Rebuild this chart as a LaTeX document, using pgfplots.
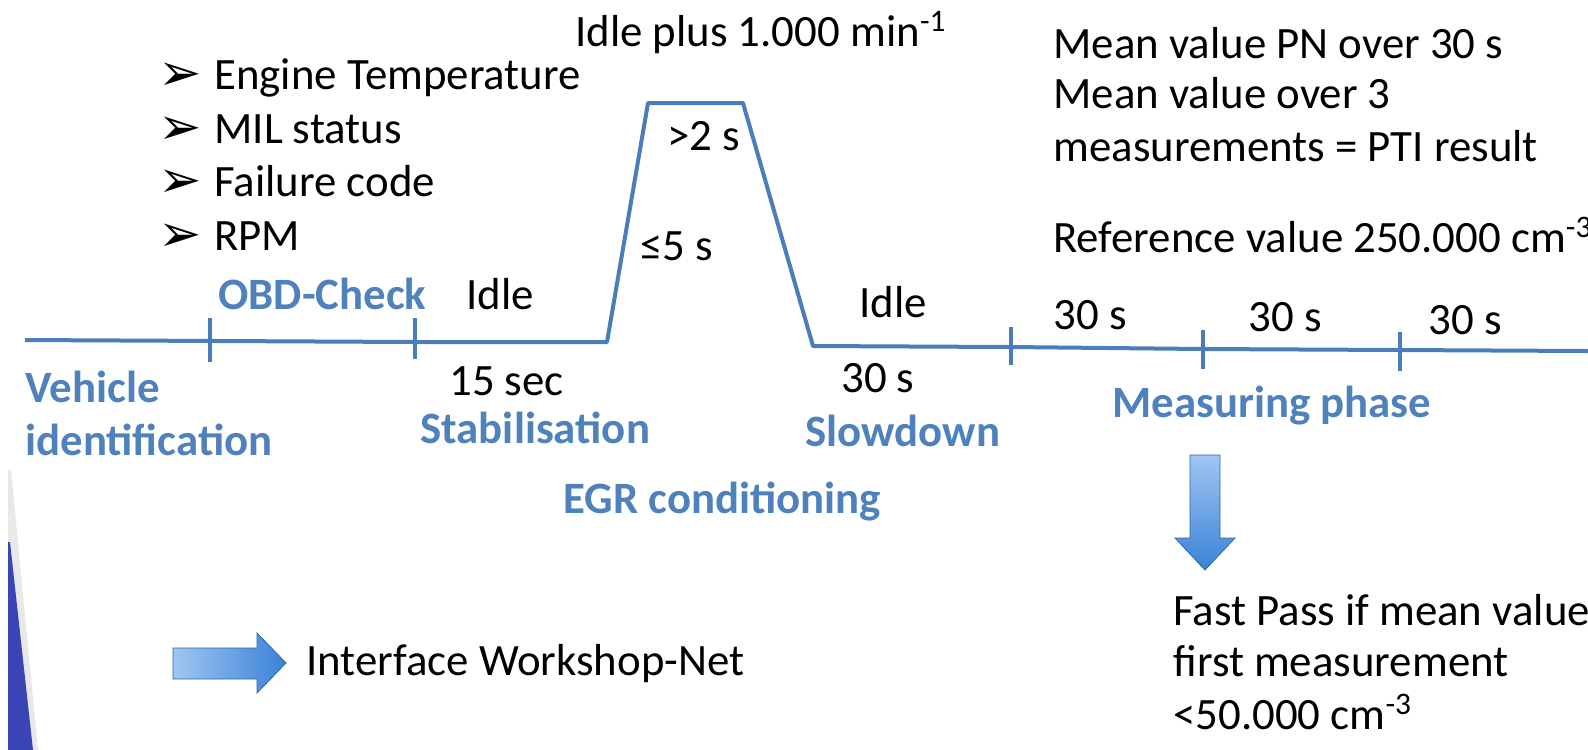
\documentclass[border=0pt]{standalone}
\usepackage{fontspec}
\setmainfont{Carlito}
\newfontfamily\dejavu{DejaVu Sans}
\usepackage{pgfplots}
\pgfplotsset{compat=1.18}
\definecolor{lineblue}{RGB}{74,126,187}
\definecolor{lblblue}{RGB}{79,129,189}
\definecolor{wedge}{RGB}{58,68,180}
\definecolor{arrlight}{RGB}{160,198,242}
\definecolor{arrdark}{RGB}{58,130,214}
\newcommand\txt{\fontsize{22.5}{27}\selectfont}
\begin{document}
\begin{tikzpicture}
\begin{axis}[at={(0,0)}, anchor=south west, scale only axis,
  width=794bp, height=375bp, xmin=0, xmax=1588, ymin=0, ymax=750,
  y dir=reverse, hide axis, clip=false]
% left decoration
\addplot[draw=none, fill=gray!18] coordinates {(8,470) (11,470) (38,750) (8,750)} -- cycle;
\addplot[draw=none, fill=wedge] coordinates {(8,542) (10,542) (33,750) (8,750)} -- cycle;
% timeline
\addplot[lineblue, line width=2bp, line join=round] coordinates {
 (25,340) (415,342) (607,342) (648,103) (743,103) (813,346) (1011,347) (1203,349) (1400,350) (1588,351)};
% ticks
\addplot[lineblue, line width=1.6bp] coordinates {(210,318) (210,362)};
\addplot[lineblue, line width=1.6bp] coordinates {(415,318) (415,359)};
\addplot[lineblue, line width=1.6bp] coordinates {(1011,327) (1011,365)};
\addplot[lineblue, line width=1.6bp] coordinates {(1203,330) (1203,369)};
\addplot[lineblue, line width=1.6bp] coordinates {(1400,332) (1400,371)};
% right arrow
\addplot[draw=arrdark!80!black, line width=0.4bp, left color=arrlight, right color=arrdark]
 coordinates {(173,648) (257,648) (257,633) (286,663) (257,693) (257,679) (173,679)} -- cycle;
% down arrow
\addplot[draw=arrdark!80!black, line width=0.4bp, top color=arrlight, bottom color=arrdark]
 coordinates {(1190,455) (1220,455) (1220,538) (1235,538) (1205,570) (1175,538) (1190,538)} -- cycle;
% texts
\tikzset{t/.style={anchor=base west, inner sep=0pt, font=\txt},
         b/.style={anchor=base west, inner sep=0pt, font=\txt\bfseries, text=lblblue},
         ar/.style={anchor=base west, inner sep=0pt, font=\dejavu\fontsize{26}{30}\selectfont}}
\node[t] at (axis cs:575,46) {Idle plus 1.000 min\textsuperscript{-1}};
\node[t] at (axis cs:214,89) {Engine Temperature};
\node[t] at (axis cs:214,143) {MIL status};
\node[t] at (axis cs:214,196) {Failure code};
\node[t] at (axis cs:214,250) {RPM};
\node[ar] at (axis cs:158,90) {➢};
\node[ar] at (axis cs:158,144) {➢};
\node[ar] at (axis cs:158,197) {➢};
\node[ar] at (axis cs:158,251) {➢};
\node[b] at (axis cs:218,309) {OBD-Check};
\node[t] at (axis cs:466,309) {Idle};
\node[t] at (axis cs:667,150) {>2 s};
\node[t] at (axis cs:640,260) {≤5 s};
\node[t] at (axis cs:859,317) {Idle};
\node[t] at (axis cs:1053,329) {30 s};
\node[t] at (axis cs:1248,331) {30 s};
\node[t] at (axis cs:1428,334) {30 s};
\node[b] at (axis cs:25,402) {Vehicle};
\node[b] at (axis cs:25,455) {identification};
\node[t] at (axis cs:449,395) {15 sec};
\node[b] at (axis cs:420,443) {Stabilisation};
\node[t] at (axis cs:841,392) {30 s};
\node[b] at (axis cs:805,446) {Slowdown};
\node[b] at (axis cs:1112,417) {Measuring phase};
\node[b] at (axis cs:563,513) {EGR conditioning};
\node[t] at (axis cs:1053,58) {Mean value PN over 30 s};
\node[t] at (axis cs:1053,108) {Mean value over 3};
\node[t] at (axis cs:1053,161) {measurements = PTI result};
\node[t] at (axis cs:1053,252) {Reference value 250.000 cm\textsuperscript{-3}};
\node[t] at (axis cs:1173,625) {Fast Pass if mean value};
\node[t] at (axis cs:1173,676) {first measurement};
\node[t] at (axis cs:1173,729) {<50.000 cm\textsuperscript{-3}};
\node[t] at (axis cs:306,675) {Interface Workshop-Net};
\end{axis}
\pgfresetboundingbox
\useasboundingbox (0,0) rectangle (794bp,375bp);
\end{tikzpicture}
\end{document}
